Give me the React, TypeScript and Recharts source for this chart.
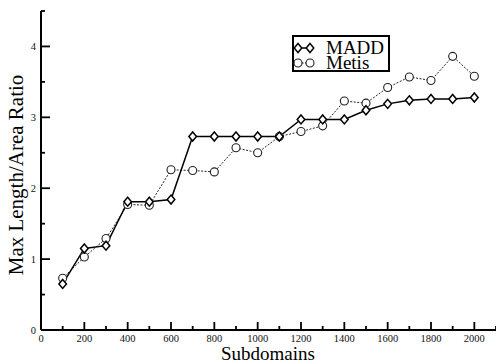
import React from 'react';
import { LineChart, Line, XAxis, YAxis, Legend } from 'recharts';

const subdomains = [100, 200, 300, 400, 500, 600, 700, 800, 900, 1000, 1100, 1200, 1300, 1400, 1500, 1600, 1700, 1800, 1900, 2000];
const maddRatio = [0.65, 1.15, 1.19, 1.81, 1.81, 1.84, 2.73, 2.73, 2.73, 2.73, 2.73, 2.97, 2.97, 2.97, 3.10, 3.19, 3.24, 3.26, 3.26, 3.28];
const metisRatio = [0.73, 1.03, 1.29, 1.77, 1.76, 2.26, 2.25, 2.23, 2.57, 2.50, 2.73, 2.80, 2.88, 3.23, 3.20, 3.42, 3.57, 3.52, 3.86, 3.58];
const xTicks = [0, 100, 200, 300, 400, 500, 600, 700, 800, 900, 1000, 1100, 1200, 1300, 1400, 1500, 1600, 1700, 1800, 1900, 2000, 2100];
const yTicks = [0, 0.5, 1, 1.5, 2, 2.5, 3, 3.5, 4, 4.5];
const seriesNames = ['MADD', 'Metis'];

const chartData = subdomains.map((x, i) => ({ x, madd: maddRatio[i], metis: metisRatio[i] }));

const serif = '"Liberation Serif", "Times New Roman", serif';

const Diamond = (props: any) => {
  const { cx, cy } = props;
  if (cx == null || cy == null) return null;
  return (
    <path
      d={`M${cx},${cy - 4.5}L${cx + 3.8},${cy}L${cx},${cy + 4.5}L${cx - 3.8},${cy}Z`}
      fill="#fff"
      stroke="#000"
      strokeWidth={1.5}
    />
  );
};

const Ring = (props: any) => {
  const { cx, cy } = props;
  if (cx == null || cy == null) return null;
  return <circle cx={cx} cy={cy} r={4} fill="#fff" stroke="#222" strokeWidth={1.1} />;
};

// tick marks point into the plot, like the original figure
const BottomTick = (props: any) => {
  const { x, y, payload } = props;
  const major = payload.value % 200 === 0;
  return (
    <g>
      <line x1={x} y1={y} x2={x} y2={y - (major ? 8 : 4)} stroke="#000" strokeWidth={1.8} />
      {major && payload.value <= 2000 && (
        <text x={x} y={y + 12} textAnchor="middle" fontSize={10.5} fontFamily={serif} fill="#111">
          {payload.value}
        </text>
      )}
    </g>
  );
};

const TopTick = (props: any) => {
  const { x, y, payload } = props;
  const major = payload.value % 200 === 0;
  return <line x1={x} y1={y} x2={x} y2={y + (major ? 8 : 4)} stroke="#000" strokeWidth={1.8} />;
};

const LeftTick = (props: any) => {
  const { x, y, payload } = props;
  const major = Number.isInteger(payload.value);
  return (
    <g>
      <line x1={x} y1={y} x2={x + (major ? 9 : 4)} y2={y} stroke="#000" strokeWidth={1.8} />
      {major && (
        <text x={x - 5} y={y + 3.5} textAnchor="end" fontSize={10.5} fontFamily={serif} fill="#111">
          {payload.value}
        </text>
      )}
    </g>
  );
};

const RightTick = (props: any) => {
  const { x, y, payload } = props;
  const major = Number.isInteger(payload.value);
  return <line x1={x} y1={y} x2={x - (major ? 9 : 4)} y2={y} stroke="#000" strokeWidth={1.8} />;
};

const LegendBox = () => (
  <svg width={98} height={37} style={{ display: 'block', overflow: 'visible' }}>
    <rect x={1} y={1} width={96} height={35} fill="#fff" stroke="#000" strokeWidth={2} />
    {seriesNames.map((name, i) => {
      const cy = 13 + i * 15;
      return (
        <g key={name}>
          <line
            x1={6}
            y1={cy}
            x2={18}
            y2={cy}
            stroke="#000"
            strokeWidth={i === 0 ? 1.5 : 1}
            strokeDasharray={i === 0 ? undefined : '2 1.5'}
          />
          {i === 0 ? (
            <>
              <Diamond cx={6} cy={cy} />
              <Diamond cx={18} cy={cy} />
            </>
          ) : (
            <>
              <Ring cx={6} cy={cy} />
              <Ring cx={18} cy={cy} />
            </>
          )}
          <text x={34} y={cy + 6} fontSize={19} fontFamily={serif} fill="#000">
            {name}
          </text>
        </g>
      );
    })}
  </svg>
);

export default function App() {
  return (
    <div style={{ position: 'absolute', left: 0, top: 0, width: 496, height: 363, background: '#fff' }}>
      <LineChart width={496} height={363} data={chartData} margin={{ top: 11, right: 0, bottom: 0, left: 0 }}>
        <XAxis
          dataKey="x"
          type="number"
          domain={[0, 2100]}
          ticks={xTicks}
          interval={0}
          height={33}
          tickSize={0}
          tickMargin={0}
          tickLine={false}
          axisLine={{ stroke: '#000', strokeWidth: 2 }}
          tick={<BottomTick />}
          label={{
            value: 'Subdomains',
            content: () => (
              <text x={268} y={360} textAnchor="middle" fontSize={19} fontFamily={serif} fill="#000">
                Subdomains
              </text>
            ),
          }}
        />
        <XAxis
          xAxisId="top"
          dataKey="x"
          type="number"
          orientation="top"
          domain={[0, 2100]}
          ticks={xTicks}
          interval={0}
          height={0}
          tickSize={0}
          tickMargin={0}
          tickLine={false}
          axisLine={{ stroke: '#000', strokeWidth: 2 }}
          tick={<TopTick />}
        />
        <YAxis
          type="number"
          domain={[0, 4.5]}
          ticks={yTicks}
          interval={0}
          width={41}
          tickSize={0}
          tickMargin={0}
          tickLine={false}
          axisLine={{ stroke: '#000', strokeWidth: 2 }}
          tick={<LeftTick />}
          label={{
            value: 'Max Length/Area Ratio',
            content: () => (
              <text x={23} y={175} transform="rotate(-90 23 175)" textAnchor="middle" fontSize={21} fontFamily={serif} fill="#000">
                Max Length/Area Ratio
              </text>
            ),
          }}
        />
        <YAxis
          yAxisId="right"
          orientation="right"
          type="number"
          domain={[0, 4.5]}
          ticks={yTicks}
          interval={0}
          width={0}
          tickSize={0}
          tickMargin={0}
          tickLine={false}
          axisLine={{ stroke: '#000', strokeWidth: 2 }}
          tick={<RightTick />}
        />
        <Legend
          layout="vertical"
          align="center"
          verticalAlign="middle"
          content={() => <LegendBox />}
          wrapperStyle={{ left: 292, top: 35, width: 98, height: 37 }}
        />
        <Line
          type="linear"
          dataKey="metis"
          name="Metis"
          stroke="#222"
          strokeWidth={1}
          strokeDasharray="2 1.5"
          dot={<Ring />}
          activeDot={false}
          isAnimationActive={false}
        />
        <Line
          type="linear"
          dataKey="madd"
          name="MADD"
          stroke="#000"
          strokeWidth={1.5}
          dot={<Diamond />}
          activeDot={false}
          isAnimationActive={false}
        />
      </LineChart>
    </div>
  );
}
